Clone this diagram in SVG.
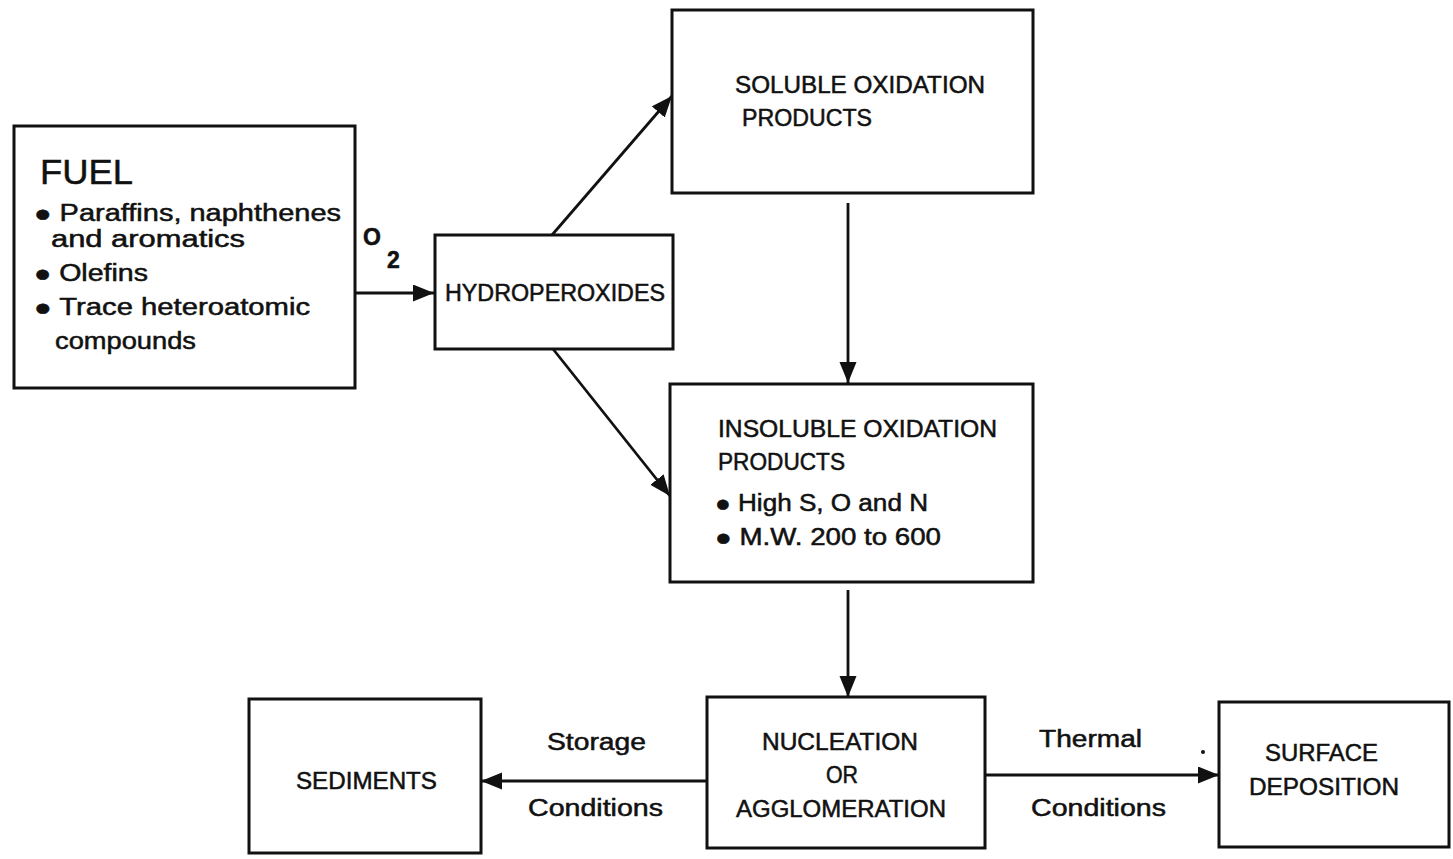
<svg xmlns="http://www.w3.org/2000/svg" width="1453" height="859" viewBox="0 0 1453 859">
<defs>
<marker id="ah" markerUnits="userSpaceOnUse" markerWidth="22" markerHeight="18" refX="21" refY="8.5" orient="auto">
<path d="M0,0 L21,8.5 L0,17 z" fill="#111"/>
</marker>
<style>
.box{fill:#fff;stroke:#111;stroke-width:3}
.ln{fill:none;stroke:#111;stroke-width:2.8;marker-end:url(#ah)}
text{font-family:"Liberation Sans",Arial,sans-serif;fill:#111;stroke:#111;stroke-width:0.5}
.t{font-size:23px}
.b{font-weight:bold}
</style>
</defs>
<rect width="1453" height="859" fill="#fff"/>
<g id="connectors">
<line class="ln" x1="355" y1="293" x2="434" y2="293"/>
<line class="ln" x1="552" y1="235" x2="672" y2="96"/>
<line class="ln" x1="553" y1="349" x2="670" y2="496"/>
<line class="ln" x1="848" y1="203" x2="848" y2="383"/>
<line class="ln" x1="848" y1="590" x2="848" y2="697"/>
<line class="ln" x1="707" y1="781" x2="481" y2="781"/>
<line class="ln" x1="985" y1="775" x2="1219" y2="775"/>
<text class="t b" x="363" y="245" font-size="24">O</text>
<text class="t b" x="387" y="268" font-size="22">2</text>
<text class="t" x="547" y="750" textLength="99" lengthAdjust="spacingAndGlyphs">Storage</text>
<text class="t" x="528" y="816" textLength="135" lengthAdjust="spacingAndGlyphs">Conditions</text>
<text class="t" x="1039" y="747" textLength="103" lengthAdjust="spacingAndGlyphs">Thermal</text>
<text class="t" x="1031" y="816" textLength="135" lengthAdjust="spacingAndGlyphs">Conditions</text>
<circle cx="1203" cy="752" r="2" fill="#111"/>
</g>
<g id="fuel">
<rect class="box" x="14" y="126" width="341" height="262"/>
<text x="40" y="184" font-size="35" textLength="93" lengthAdjust="spacingAndGlyphs">FUEL</text>
<text class="t" x="34" y="221" textLength="307" lengthAdjust="spacingAndGlyphs">● Paraffins, naphthenes</text>
<text class="t" x="51" y="247" textLength="194" lengthAdjust="spacingAndGlyphs">and aromatics</text>
<text class="t" x="34" y="281" textLength="114" lengthAdjust="spacingAndGlyphs">● Olefins</text>
<text class="t" x="34" y="315" textLength="276" lengthAdjust="spacingAndGlyphs">● Trace heteroatomic</text>
<text class="t" x="55" y="349" textLength="141" lengthAdjust="spacingAndGlyphs">compounds</text>
</g>
<g id="hydroperoxides">
<rect class="box" x="435" y="235" width="238" height="114"/>
<text class="t" x="445" y="301" font-size="24" textLength="220" lengthAdjust="spacingAndGlyphs">HYDROPEROXIDES</text>
</g>
<g id="soluble">
<rect class="box" x="672" y="10" width="361" height="183"/>
<text class="t" x="735" y="93" font-size="24" textLength="250" lengthAdjust="spacingAndGlyphs">SOLUBLE OXIDATION</text>
<text class="t" x="742" y="126" font-size="24" textLength="130" lengthAdjust="spacingAndGlyphs">PRODUCTS</text>
</g>
<g id="insoluble">
<rect class="box" x="670" y="384" width="363" height="198"/>
<text class="t" x="718" y="437" font-size="24" textLength="279" lengthAdjust="spacingAndGlyphs">INSOLUBLE OXIDATION</text>
<text class="t" x="718" y="470" font-size="24" textLength="127" lengthAdjust="spacingAndGlyphs">PRODUCTS</text>
<text class="t" x="715" y="511" textLength="213" lengthAdjust="spacingAndGlyphs">● High S, O and N</text>
<text class="t" x="715" y="545" textLength="226" lengthAdjust="spacingAndGlyphs">● M.W. 200 to 600</text>
</g>
<g id="sediments">
<rect class="box" x="249" y="699" width="232" height="154"/>
<text class="t" x="296" y="789" font-size="24" textLength="141" lengthAdjust="spacingAndGlyphs">SEDIMENTS</text>
</g>
<g id="nucleation">
<rect class="box" x="707" y="697" width="278" height="151"/>
<text class="t" x="762" y="750" font-size="24" textLength="156" lengthAdjust="spacingAndGlyphs">NUCLEATION</text>
<text class="t" x="826" y="783" font-size="24" textLength="32" lengthAdjust="spacingAndGlyphs">OR</text>
<text class="t" x="736" y="817" font-size="24" textLength="210" lengthAdjust="spacingAndGlyphs">AGGLOMERATION</text>
</g>
<g id="surface">
<rect class="box" x="1219" y="702" width="230" height="145"/>
<text class="t" x="1265" y="761" font-size="24" textLength="113" lengthAdjust="spacingAndGlyphs">SURFACE</text>
<text class="t" x="1249" y="795" font-size="24" textLength="150" lengthAdjust="spacingAndGlyphs">DEPOSITION</text>
</g>
</svg>
